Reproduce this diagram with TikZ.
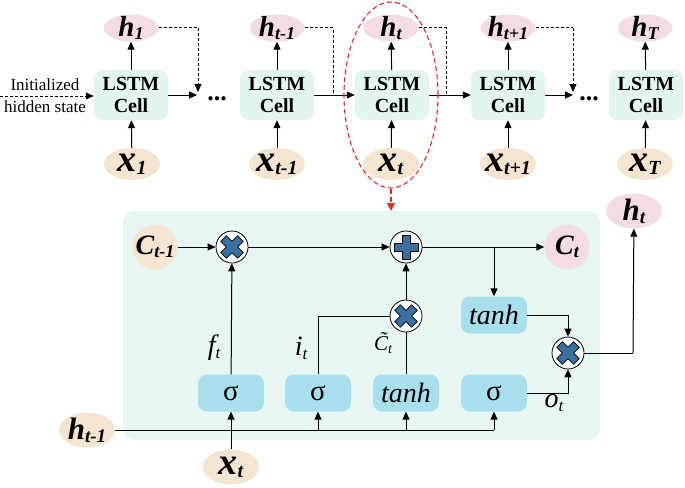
\documentclass[tikz,border=0pt]{standalone}
\usepackage{fontspec}
\setmainfont{Liberation Serif}
\usetikzlibrary{shapes.geometric,arrows.meta,calc}
\definecolor{pinkc}{RGB}{243,220,228}
\definecolor{beigec}{RGB}{243,229,207}
\definecolor{cellc}{RGB}{226,245,239}
\definecolor{boxc}{RGB}{231,246,242}
\definecolor{gatec}{RGB}{168,223,236}
\definecolor{opblue}{RGB}{59,111,160}
\definecolor{redc}{RGB}{240,40,40}
\newcommand{\vlab}[4]{{\fontsize{#2}{#2}\selectfont\bfseries\itshape #1}{\fontsize{#4}{#4}\selectfont\bfseries\itshape\raisebox{-3pt}{#3}}}
\newcommand{\glab}[3]{{\fontsize{#2}{#2}\selectfont\itshape #1}{\fontsize{17}{17}\selectfont\itshape\raisebox{-4pt}{#3}}}
\tikzset{
  cellbox/.style={rounded corners=8pt, fill=cellc, minimum width=74pt, minimum height=50pt, inner sep=0pt, align=center, font=\fontsize{20}{22}\selectfont\bfseries},
  hnode/.style={ellipse, fill=pinkc, minimum width=55pt, minimum height=27pt, inner sep=0pt},
  xnode/.style={ellipse, fill=beigec, minimum width=56pt, minimum height=32pt, inner sep=0pt},
  lbl/.style={inner sep=0pt},
  gate/.style={rounded corners=9pt, fill=gatec, minimum width=66pt, minimum height=37pt, inner sep=0pt, font=\fontsize{29}{29}\selectfont},
  opc/.style={circle, draw, fill=white, minimum size=32pt, inner sep=0pt, line width=0.8pt},
  conn/.style={line width=1pt, -{Triangle[length=8pt,width=7pt]}},
  plain/.style={line width=1pt},
  dconn/.style={line width=1pt, dash pattern=on 3pt off 2pt, -{Triangle[length=8pt,width=7pt]}},
  dplain/.style={line width=1pt, dash pattern=on 3pt off 2pt},
  pics/crossg/.style={code={
    \filldraw[fill=opblue, draw=black, line width=0.7pt, line join=round, rotate=#1]
      (-4,-12) -- (4,-12) -- (4,-4) -- (12,-4) -- (12,4) -- (4,4) -- (4,12) -- (-4,12) -- (-4,4) -- (-12,4) -- (-12,-4) -- (-4,-4) -- cycle;
  }},
}
\begin{document}
\begin{tikzpicture}[x=1pt,y=-1pt]
\useasboundingbox (0,0) rectangle (685,487);
% ---------- top row ----------
\foreach \n/\cx in {c1/131,c2/277,c3/392,c4/508,c5/646}{
  \node[cellbox] (\n) at (\cx,95) {LSTM\\Cell};
}
\node[hnode,label={[lbl]center:\vlab{h}{29}{1}{18}}] (h1) at (131,28) {};
\node[hnode,label={[lbl]center:\vlab{h}{29}{t-1}{18}}] (h2) at (277,28) {};
\node[hnode,label={[lbl]center:\vlab{h}{29}{t}{18}}] (h3) at (391,28) {};
\node[hnode,label={[lbl]center:\vlab{h}{29}{t+1}{18}}] (h4) at (508,28) {};
\node[hnode,label={[lbl]center:\vlab{h}{29}{T}{18}}] (h5) at (645,28) {};
\node[xnode,label={[lbl]center:\vlab{x}{38}{1}{20}}] (x1) at (132,164) {};
\node[xnode,label={[lbl]center:\vlab{x}{38}{t-1}{20}}] (x2) at (277,164) {};
\node[xnode,label={[lbl]center:\vlab{x}{38}{t}{20}}] (x3) at (391,164) {};
\node[xnode,label={[lbl]center:\vlab{x}{38}{t+1}{20}}] (x4) at (508,164) {};
\node[xnode,label={[lbl]center:\vlab{x}{38}{T}{20}}] (x5) at (645,164) {};
\foreach \i in {1,...,5}{
  \draw[conn] (x\i) -- (c\i);
  \draw[conn] (c\i) -- (h\i);
}
% initial state
\node[align=center, inner sep=0pt, font=\fontsize{17}{22}\selectfont] (init) at (45,96) {Initialized\\hidden state};
\coordinate (i0) at (0,96);
\draw[dconn] (i0) -- (c1.west |- 0,96);
% dots
\node[font=\fontsize{26}{26}\selectfont\bfseries, anchor=base, inner sep=0pt] (d1) at (217,100) {...};
\node[font=\fontsize{26}{26}\selectfont\bfseries, anchor=base, inner sep=0pt] (d2) at (589,100) {...};
% recurrent connections
\coordinate (a1) at (197,95);
\coordinate (a1d) at (198,28);
\draw[conn] (c1) -- (a1);
\draw[dplain] (h1) -- (a1d);
\draw[dconn] (a1d) -- ++(0,64);
\draw[conn] (c2) -- (c3);
\coordinate (a2d) at (333,28);
\draw[dplain] (h2) -- (a2d) -- (a2d |- c2);
\draw[conn] (c3) -- (c4);
\coordinate (a3d) at (446,28);
\draw[dplain] (h3) -- (a3d) -- (a3d |- c3);
\coordinate (a4) at (573,95);
\coordinate (a4d) at (573,28);
\draw[conn] (c4) -- (a4);
\draw[dplain] (h4) -- (a4d);
\draw[dconn] (a4d) -- ++(0,64);
% red highlight
\node[ellipse, draw=redc, dash pattern=on 5pt off 3pt, line width=1.1pt, minimum width=94pt, minimum height=186pt, inner sep=0pt] (hl) at (391,95) {};
\coordinate (rt) at (391,211);
\draw[draw=redc, line width=1.1pt, dash pattern=on 5pt off 3pt, -{Triangle[length=8pt,width=8pt]}] (hl.south) -- (rt);
% ---------- bottom cell ----------
\fill[boxc, rounded corners=11pt] (123,211) rectangle (600,440);
\node[circle, fill=beigec, minimum size=45pt, inner sep=0pt, label={[lbl]center:\vlab{C}{28}{t-1}{18}}] (cp) at (155,247) {};
\node[circle, fill=pinkc, minimum size=45pt, inner sep=0pt, label={[lbl]center:\vlab{C}{28}{t}{18}}] (cn) at (567,247) {};
\node[opc] (m1) at (232,247) {}; \pic at (m1) {crossg=45};
\node[opc] (p1) at (406,247) {}; \pic at (p1) {crossg=0};
\node[opc] (m2) at (406,316) {}; \pic at (m2) {crossg=45};
\node[opc] (m3) at (568,353) {}; \pic at (m3) {crossg=45};
\node[gate] (s1) at (231,393) {σ};
\node[gate] (s2) at (318,393) {σ};
\node[gate, font=\fontsize{28}{28}\selectfont\itshape] (t2) at (406,393) {tanh};
\node[gate] (s3) at (494,393) {σ};
\node[gate, font=\fontsize{28}{28}\selectfont\itshape] (t1) at (494,315) {tanh};
\node[ellipse, fill=pinkc, minimum width=56pt, minimum height=35pt, inner sep=0pt, label={[lbl]center:\vlab{h}{31}{t}{19}}] (ho) at (634,211) {};
\node[ellipse, fill=beigec, minimum width=56pt, minimum height=35pt, inner sep=0pt, label={[lbl]center:\vlab{h}{31}{t-1}{19}}] (hp) at (87,430) {};
\node[ellipse, fill=beigec, minimum width=56pt, minimum height=35pt, inner sep=0pt, label={[lbl]center:\vlab{x}{38}{t}{20}}] (xt) at (231,467) {};
% cell-state path
\draw[conn] (cp) -- (m1);
\draw[conn] (m1) -- (p1);
\draw[conn] (p1) -- (cn);
\coordinate (br) at (494,247);
\draw[conn] (br) -- (t1);
\draw[conn] (t1.east) -| (m3.north);
\draw[conn] (s3.east) -| (m3.south);
\coordinate (hc) at (633,353);
\draw[plain] (m3) -- (hc);
\draw[conn] (hc) -- (ho);
% gates
\draw[conn] (s1) -- (m1);
\draw[plain] (s2.north) |- (m2.west);
\draw[plain] (t2) -- (m2);
\draw[conn] (m2) -- (p1);
% inputs
\coordinate (hl2) at (494,430);
\draw[plain] (hp) -- (hl2);
\draw[conn] (hl2) -- (s3);
\draw[conn] (s2.south |- hl2) -- (s2);
\draw[conn] (t2.south |- hl2) -- (t2);
\draw[conn] (xt) -- (s1);
% labels
\node[lbl] (ft) at (214,348) {\glab{f}{28}{t}};
\node[lbl] (it) at (301,348) {\glab{i}{28}{t}};
\node[lbl] (ct) at (383,343) {{\fontsize{21}{21}\selectfont\itshape \~{C}}{\fontsize{14}{14}\selectfont\itshape\raisebox{-3pt}{t}}};
\node[lbl] (ot) at (554,403) {\glab{o}{28}{t}};
\end{tikzpicture}
\end{document}
